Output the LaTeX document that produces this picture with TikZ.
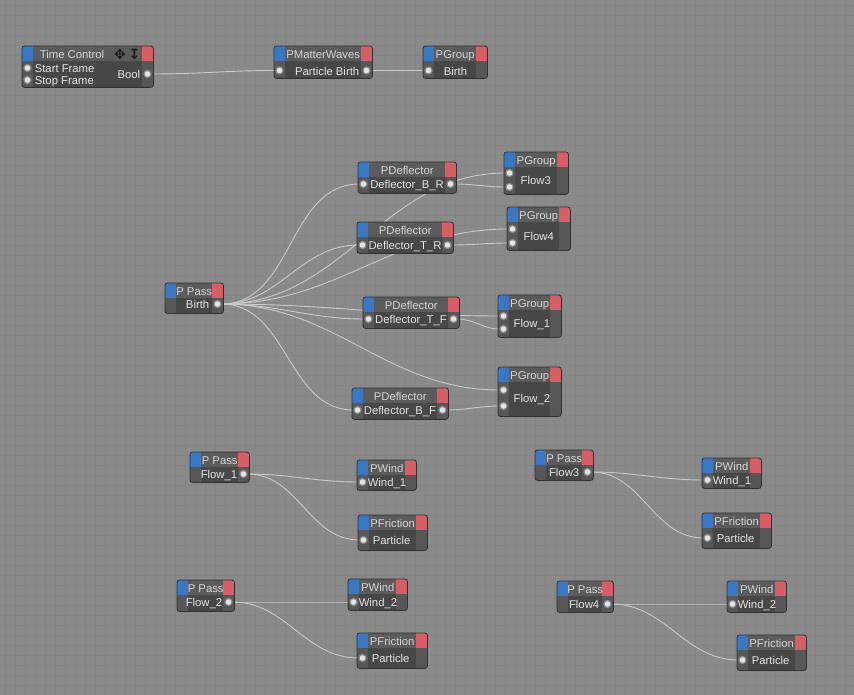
\documentclass[tikz,border=0pt]{standalone}
\usepackage{fontspec}
\setmainfont{Liberation Sans}
\newfontfamily\iconfont{DejaVu Sans}
\usetikzlibrary{positioning,calc}
\definecolor{canvas}{HTML}{8A8A8A}
\definecolor{gridc}{HTML}{858585}
\definecolor{headc}{HTML}{5B5B5B}
\definecolor{bodyc}{HTML}{474747}
\definecolor{sidec}{HTML}{575757}
\definecolor{edgec}{HTML}{303030}
\definecolor{xblue}{HTML}{3B78C3}
\definecolor{xred}{HTML}{D65F67}
\definecolor{textc}{HTML}{E4E4E4}
\definecolor{titlec}{HTML}{D6D6D6}
\definecolor{wirec}{HTML}{CACACA}
\definecolor{portc}{HTML}{E6E6E6}
\definecolor{ringc}{HTML}{8E8E8E}

\pgfdeclarelayer{back}
\pgfdeclarelayer{wires}
\pgfsetlayers{back,wires,main}

\tikzset{
  xpbox/.style={anchor=north west,fill=bodyc,inner sep=0pt,rounded corners=2.5pt},
  xptitle/.style={text=titlec,inner sep=0pt,text height=10.5pt,text depth=1pt,font=\fontsize{11.3}{13}\selectfont},
  lbl/.style={text=textc,inner sep=0pt,text height=10.5pt,text depth=1pt,font=\fontsize{11.3}{13}\selectfont},
  port/.style={circle,inner sep=0pt,minimum size=7pt,fill=portc,draw=ringc,line width=1.2pt},
  wire/.style={draw=wirec,line width=0.9pt,out=0,in=180},
  icon/.style={text=black!90,inner sep=0pt,font=\iconfont\bfseries\fontsize{14}{15}\selectfont}
}

% one XPresso node: name, left, top, width, height, title
\newcommand{\xpnode}[6]{%
  \node[xpbox,minimum width=#4pt,minimum height=#5pt] (#1) at (#2,#3) {};
  \begin{scope}
    \clip[rounded corners=2.5pt] (#1.north west) rectangle (#1.south east);
    \fill[headc] (#1.north west) rectangle ([yshift=-15pt]#1.north east);
    \fill[xblue] (#1.north west) rectangle ([xshift=11pt,yshift=-15pt]#1.north west);
    \fill[xred] ([xshift=-11pt]#1.north east) rectangle ([yshift=-15pt]#1.north east);
    \fill[sidec] ([yshift=-15pt]#1.north west) rectangle ([xshift=11pt]#1.south west);
    \fill[sidec] ([xshift=-11pt,yshift=-15pt]#1.north east) rectangle (#1.south east);
  \end{scope}
  \draw[edgec,line width=0.8pt,rounded corners=2.5pt] (#1.north west) rectangle (#1.south east);
  \node[xptitle] at ([yshift=-7.5pt]#1.north) {#6};
}

\begin{document}
\begin{tikzpicture}[x=1pt,y=-1pt]
  \useasboundingbox (0,0) rectangle (854,695);
  \begin{pgfonlayer}{back}
    \fill[canvas] (0,0) rectangle (854,695);
    \foreach \g in {5,15,...,854} \draw[gridc,line width=0.5pt] (\g,0) -- (\g,695);
    \foreach \g in {5,15,...,695} \draw[gridc,line width=0.5pt] (0,\g) -- (854,\g);
  \end{pgfonlayer}

  % top row
  \xpnode{tc}{22}{46}{131}{41}{}
  \node[xptitle] at (72,53.5) {Time Control};
  \node[icon] at (120,54) {✥};
  \node[icon] at (134.5,54) {↧};
  \node[port] (tc-start) at (27.5,68) {};
  \node[port] (tc-stop) at (27.5,80) {};
  \node[port] (tc-out) at (147.5,74) {};
  \node[lbl,anchor=west,right=3pt of tc-start] {Start Frame};
  \node[lbl,anchor=west,right=3pt of tc-stop] {Stop Frame};
  \node[lbl,left=3pt of tc-out] {Bool};

  \xpnode{pmw}{274}{46}{98}{32}{PMatterWaves}
  \node[port] (pmw-in) at (279.5,70.5) {};
  \node[port] (pmw-out) at (366.5,70.5) {};
  \node[lbl,left=3pt of pmw-out] {Particle Birth};

  \xpnode{gbirth}{423}{46}{64}{32}{PGroup}
  \node[port] (gbirth-in) at (428.5,70.5) {};
  \node[lbl,right=11pt of gbirth-in] {Birth};

  % deflector block
  \xpnode{pbirth}{165}{283}{58}{30}{P Pass}
  \node[port] (pbirth-out) at (217.5,304) {};
  \node[lbl,left=4pt of pbirth-out] {Birth};

  \xpnode{dbr}{358}{162}{98}{31}{PDeflector}
  \node[port] (dbr-in) at (363.5,184) {};
  \node[port] (dbr-out) at (450.5,184) {};
  \node[lbl] at ($(dbr-in)!0.5!(dbr-out)$) {Deflector\_B\_R};

  \xpnode{dtr}{357}{222}{96}{31}{PDeflector}
  \node[port] (dtr-in) at (362.5,245) {};
  \node[port] (dtr-out) at (447.5,245) {};
  \node[lbl] at ($(dtr-in)!0.5!(dtr-out)$) {Deflector\_T\_R};

  \xpnode{dtf}{363}{297}{96}{31}{PDeflector}
  \node[port] (dtf-in) at (368.5,319) {};
  \node[port] (dtf-out) at (453.5,319) {};
  \node[lbl] at ($(dtf-in)!0.5!(dtf-out)$) {Deflector\_T\_F};

  \xpnode{dbf}{352}{388}{96}{31}{PDeflector}
  \node[port] (dbf-in) at (357.5,410) {};
  \node[port] (dbf-out) at (442.5,410) {};
  \node[lbl] at ($(dbf-in)!0.5!(dbf-out)$) {Deflector\_B\_F};

  \xpnode{g3}{504}{152}{64}{42}{PGroup}
  \node[port] (g3-a) at (509.5,173) {};
  \node[port] (g3-b) at (509.5,187) {};
  \node[lbl,anchor=west] at ($(g3-a)!0.5!(g3-b)+(11,0)$) {Flow3};

  \xpnode{g4}{507}{207}{63}{43}{PGroup}
  \node[port] (g4-a) at (512.5,229) {};
  \node[port] (g4-b) at (512.5,243) {};
  \node[lbl,anchor=west] at ($(g4-a)!0.5!(g4-b)+(11,0)$) {Flow4};

  \xpnode{g1}{498}{295}{63}{42}{PGroup}
  \node[port] (g1-a) at (503.5,316) {};
  \node[port] (g1-b) at (503.5,329) {};
  \node[lbl,anchor=west] at ($(g1-a)!0.5!(g1-b)+(10,0)$) {Flow\_1};

  \xpnode{g2}{498}{367}{63}{49}{PGroup}
  \node[port] (g2-a) at (503.5,390) {};
  \node[port] (g2-b) at (503.5,406) {};
  \node[lbl,anchor=west] at ($(g2-a)!0.5!(g2-b)+(10,0)$) {Flow\_2};

  % pass -> wind / friction
  \xpnode{pf1}{190}{452}{59}{30}{P Pass}
  \node[port] (pf1-out) at (243.5,474) {};
  \node[lbl,left=2pt of pf1-out] {Flow\_1};
  \xpnode{w1a}{357}{460}{59}{30}{PWind}
  \node[port] (w1a-in) at (362.5,482) {};
  \node[lbl,right=1pt of w1a-in] {Wind\_1};
  \xpnode{fr1}{358}{515}{69}{35}{PFriction}
  \node[port] (fr1-in) at (363.5,540) {};
  \node[lbl,right=5pt of fr1-in] {Particle};

  \xpnode{pf3}{535}{450}{58}{30}{P Pass}
  \node[port] (pf3-out) at (587.5,472) {};
  \node[lbl,left=4pt of pf3-out] {Flow3};
  \xpnode{w1b}{702}{458}{59}{30}{PWind}
  \node[port] (w1b-in) at (707.5,480) {};
  \node[lbl,right=1pt of w1b-in] {Wind\_1};
  \xpnode{fr3}{702}{513}{69}{35}{PFriction}
  \node[port] (fr3-in) at (707.5,538) {};
  \node[lbl,right=5pt of fr3-in] {Particle};

  \xpnode{pf2}{177}{580}{57}{31}{P Pass}
  \node[port] (pf2-out) at (228.5,602) {};
  \node[lbl,left=2pt of pf2-out] {Flow\_2};
  \xpnode{w2a}{348}{579}{59}{31}{PWind}
  \node[port] (w2a-in) at (353.5,602) {};
  \node[lbl,right=1pt of w2a-in] {Wind\_2};
  \xpnode{fr2}{357}{633}{70}{35}{PFriction}
  \node[port] (fr2-in) at (362.5,658) {};
  \node[lbl,right=5pt of fr2-in] {Particle};

  \xpnode{pf4}{557}{581}{56}{31}{P Pass}
  \node[port] (pf4-out) at (607.5,604) {};
  \node[lbl,left=4pt of pf4-out] {Flow4};
  \xpnode{w2b}{727}{581}{59}{31}{PWind}
  \node[port] (w2b-in) at (732.5,604) {};
  \node[lbl,right=1pt of w2b-in] {Wind\_2};
  \xpnode{fr4}{737}{635}{69}{35}{PFriction}
  \node[port] (fr4-in) at (742.5,660) {};
  \node[lbl,right=5pt of fr4-in] {Particle};

  % wires, under the nodes
  \begin{pgfonlayer}{wires}
    \draw[wire] (tc-out) to (pmw-in);
    \draw[wire] (pmw-out) to (gbirth-in);
    \foreach \t in {dbr-in,dtr-in,dtf-in,dbf-in,g3-a,g4-a,g1-a,g2-a}
      \draw[wire] (pbirth-out) to (\t);
    \draw[wire] (dbr-out) to (g3-b);
    \draw[wire] (dtr-out) to (g4-b);
    \draw[wire] (dtf-out) to (g1-b);
    \draw[wire] (dbf-out) to (g2-b);
    \draw[wire] (pf1-out) to (w1a-in);
    \draw[wire] (pf1-out) to (fr1-in);
    \draw[wire] (pf3-out) to (w1b-in);
    \draw[wire] (pf3-out) to (fr3-in);
    \draw[wire] (pf2-out) to (w2a-in);
    \draw[wire] (pf2-out) to (fr2-in);
    \draw[wire] (pf4-out) to (w2b-in);
    \draw[wire] (pf4-out) to (fr4-in);
  \end{pgfonlayer}
\end{tikzpicture}
\end{document}
